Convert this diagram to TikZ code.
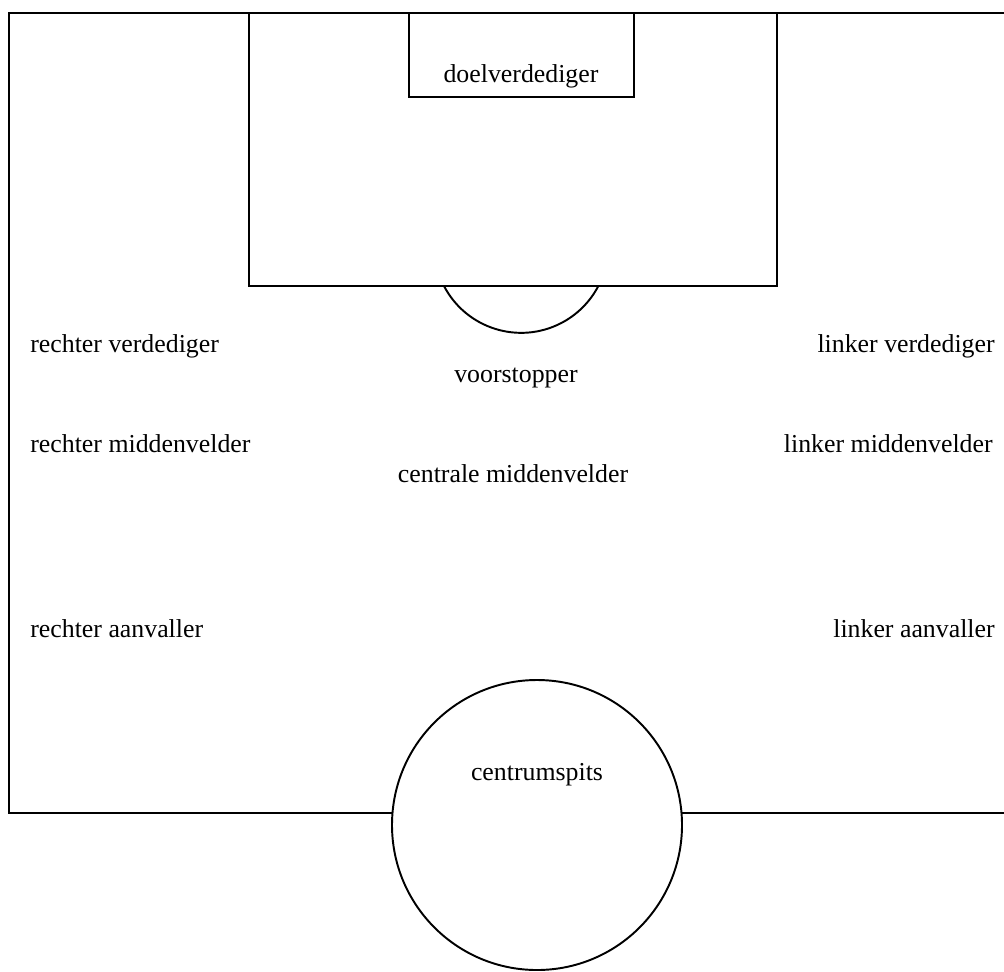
\documentclass[tikz,border=0pt]{standalone}
\usepackage{fontspec}
\setmainfont{Liberation Serif}
\usetikzlibrary{positioning}

\begin{document}
\begin{tikzpicture}[x=0.02cm,y=-0.02cm,
                    fieldline/.style={draw=black,line width=1.1pt},
                    lbl/.style={inner sep=0pt,font=\fontsize{14.7}{17}\selectfont}]
 \useasboundingbox (0,0) rectangle (1004,971);
 \clip (0,0) rectangle (1004,971);
 \draw[fieldline] (1010,13) -- (9,13) -- (9,813) -- (1010,813);
 \draw[fieldline] (444,286) arc[start angle=152.5,end angle=27.5,radius=87];
 \draw[fieldline] (249,13) rectangle (777,286);
 \draw[fieldline] (409,13) rectangle (634,97);
 \draw[fieldline,fill=white] (537,825) circle[radius=145];

 \node[lbl] (keeper) at (521,76) {doelverdediger};
 \node[lbl,anchor=west] (rv) at (30,346) {rechter verdediger};
 \node[lbl,anchor=east] (lv) at (995,346) {linker verdediger};
 \node[lbl] (stopper) at (516,378) {voorstopper};
 \node[lbl,anchor=west] (rm) at (30,444) {rechter middenvelder};
 \node[lbl,anchor=east] (lm) at (993,444) {linker middenvelder};
 \node[lbl] (cm) at (513,474) {centrale middenvelder};
 \node[lbl,anchor=west] (ra) at (30,629) {rechter aanvaller};
 \node[lbl,anchor=east] (la) at (995,629) {linker aanvaller};
 \node[lbl] (spits) at (537,775) {centrumspits};
\end{tikzpicture}
\end{document}
